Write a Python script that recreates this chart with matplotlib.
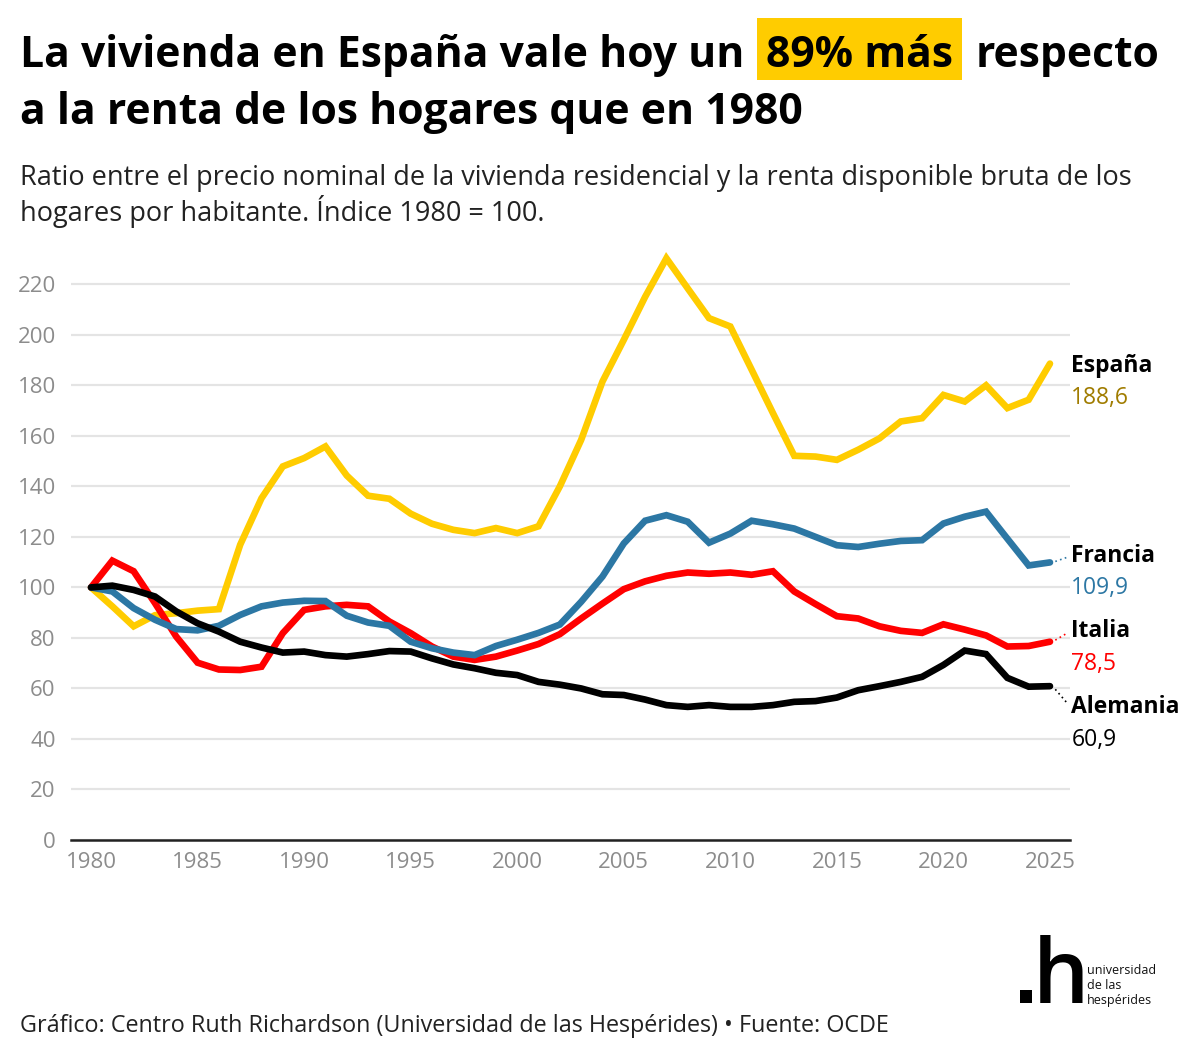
import matplotlib as mpl
mpl.use('Agg')

import matplotlib.pyplot as plt
from matplotlib.patches import Rectangle

plt.rcParams['font.family'] = ['Open Sans', 'Noto Sans', 'DejaVu Sans']

years = list(range(1980, 2026))

espana = [100, 92.5, 84.6, 89, 89.8, 90.8, 91.4, 116.9, 135.3, 147.9,
          151.2, 155.8, 144.3, 136.3, 135.1, 129.2, 125.2, 122.8, 121.5, 123.5,
          121.5, 124.2, 140, 158.4, 181.5, 198, 215, 230.3, 218.4, 206.6,
          203.3, 186.2, 169, 152.1, 151.8, 150.5, 154.5, 159, 165.7, 167,
          176.2, 173.6, 180, 171, 174.3, 188.6]

francia = [100, 98.4, 91.8, 87.2, 83.5, 83, 84.8, 89.1, 92.5, 94,
           94.7, 94.6, 88.8, 86.1, 84.8, 78.5, 75.9, 74.2, 73.2, 76.8,
           79.3, 82, 85.3, 94.3, 104.3, 117.4, 126.4, 128.6, 126, 117.7,
           121.3, 126.4, 125, 123.3, 120, 116.7, 116, 117.3, 118.4, 118.7,
           125.3, 128, 130, 119.3, 108.7, 109.9]

italia = [100, 110.6, 106.4, 93.8, 80.5, 70.2, 67.5, 67.3, 68.6, 81.9,
          91.1, 92.5, 93.1, 92.5, 86.5, 81.9, 76.6, 72.6, 71.3, 72.6,
          75, 77.6, 81.5, 87.7, 93.6, 99.3, 102.4, 104.6, 105.9, 105.4,
          105.9, 105, 106.4, 98.4, 93.4, 88.6, 87.7, 84.6, 82.8, 82,
          85.4, 83.3, 81, 76.6, 76.8, 78.5]

alemania = [100, 100.7, 99, 96.4, 90.5, 85.8, 82.5, 78.5, 76.2, 74.2,
            74.6, 73.2, 72.6, 73.6, 74.8, 74.6, 71.9, 69.5, 68, 66.2,
            65.3, 62.6, 61.5, 60, 57.7, 57.4, 55.6, 53.4, 52.7, 53.4,
            52.7, 52.7, 53.4, 54.7, 55, 56.4, 59.3, 60.9, 62.6, 64.6,
            69.3, 75, 73.6, 64.2, 60.7, 60.9]

W, H = 1200, 1059
fig = plt.figure(figsize=(W / 100, H / 100), dpi=100)


def fx(px):
    return px / W


def fy(py):
    return 1 - py / H


ax = fig.add_axes([fx(71), fy(840), fx(1070) - fx(71), fy(254) - fy(840)])

# series drawn bottom to top
series = [
    ('España', espana, '#FFCC00', '#A07C00', 187.6, 174.9),
    ('Italia', italia, '#FF0000', '#FF0000', 82.7, 69.6),
    ('Francia', francia, '#2C77A4', '#2C77A4', 112.4, 99.7),
    ('Alemania', alemania, '#000000', '#000000', 52.6, 39.6),
]

for name, vals, col, numcol, ly_name, ly_num in series:
    ax.plot(years, vals, color=col, lw=4.8, solid_joinstyle='miter',
            solid_capstyle='round', clip_on=False, zorder=3)
    ax.text(2026.0, ly_name, name, fontsize=16.5, fontweight='bold',
            color='black', va='center', ha='left', clip_on=False)
    ax.text(2026.0, ly_num, f'{vals[-1]:.1f}'.replace('.', ','), fontsize=16.5,
            color=numcol, va='center', ha='left', clip_on=False)
    if name != 'España':
        ax.plot([2025.25, 2025.8], [vals[-1] + (ly_name - vals[-1]) * 0.15,
                                    vals[-1] + (ly_name - vals[-1]) * 0.8],
                color=col, lw=1.2, ls=(0, (1, 2)), clip_on=False)

ax.set_xlim(1979.06, 2025.94)
ax.set_ylim(0, 232)
ax.set_yticks(range(0, 221, 20))
ax.set_xticks(range(1980, 2026, 5))
ax.yaxis.grid(True, color='#E4E4E4', lw=1.6)
ax.set_axisbelow(True)
for s in ['top', 'right', 'left']:
    ax.spines[s].set_visible(False)
ax.spines['bottom'].set_color('#222222')
ax.spines['bottom'].set_linewidth(1.8)
ax.tick_params(axis='both', length=0, labelsize=16, labelcolor='#8C8C8C')
ax.tick_params(axis='y', pad=11)
ax.tick_params(axis='x', pad=9)

# title with highlighted part
tsize = 30.7
renderer = fig.canvas.get_renderer()
t1 = fig.text(fx(20), fy(67), 'La vivienda en España vale hoy un', fontsize=tsize,
              fontweight='bold', va='baseline', ha='left')
bb = t1.get_window_extent(renderer)
t2 = fig.text(fx(bb.x1 + 22), fy(67), '89% más', fontsize=tsize, fontweight='bold',
              va='baseline', ha='left', zorder=3)
bb2 = t2.get_window_extent(renderer)
fig.patches.append(Rectangle((fx(bb2.x0 - 9), fy(80)), (bb2.width + 18) / W, 62 / H,
                             transform=fig.transFigure, facecolor='#FFCC00',
                             edgecolor='none', zorder=1))
fig.text(fx(bb2.x1 + 22), fy(67), 'respecto', fontsize=tsize, fontweight='bold',
         va='baseline', ha='left')
fig.text(fx(20), fy(124), 'a la renta de los hogares que en 1980', fontsize=tsize,
         fontweight='bold', va='baseline', ha='left')

fig.text(fx(20), fy(185), 'Ratio entre el precio nominal de la vivienda residencial y la renta disponible bruta de los',
         fontsize=19.5, color='#222222', va='baseline', ha='left')
fig.text(fx(20), fy(221), 'hogares por habitante. Índice 1980 = 100.',
         fontsize=19.5, color='#222222', va='baseline', ha='left')

fig.text(fx(20), fy(1032), 'Gráfico: Centro Ruth Richardson (Universidad de las Hespérides) • Fuente: OCDE',
         fontsize=16.8, color='#222222', va='baseline', ha='left')

# logo
fig.patches.append(Rectangle((fx(1020), fy(1003)), 12 / W, 13 / H,
                             transform=fig.transFigure, facecolor='black',
                             edgecolor='none'))
fig.text(fx(1033), fy(1003), 'h', fontsize=64, fontweight='semibold', color='black',
         va='baseline', ha='left')
fig.text(fx(1087), fy(1004), 'universidad\nde las\nhespérides', fontsize=9,
         color='#111111', va='baseline', ha='left', linespacing=1.2)

fig.savefig('out.png', dpi=100)
